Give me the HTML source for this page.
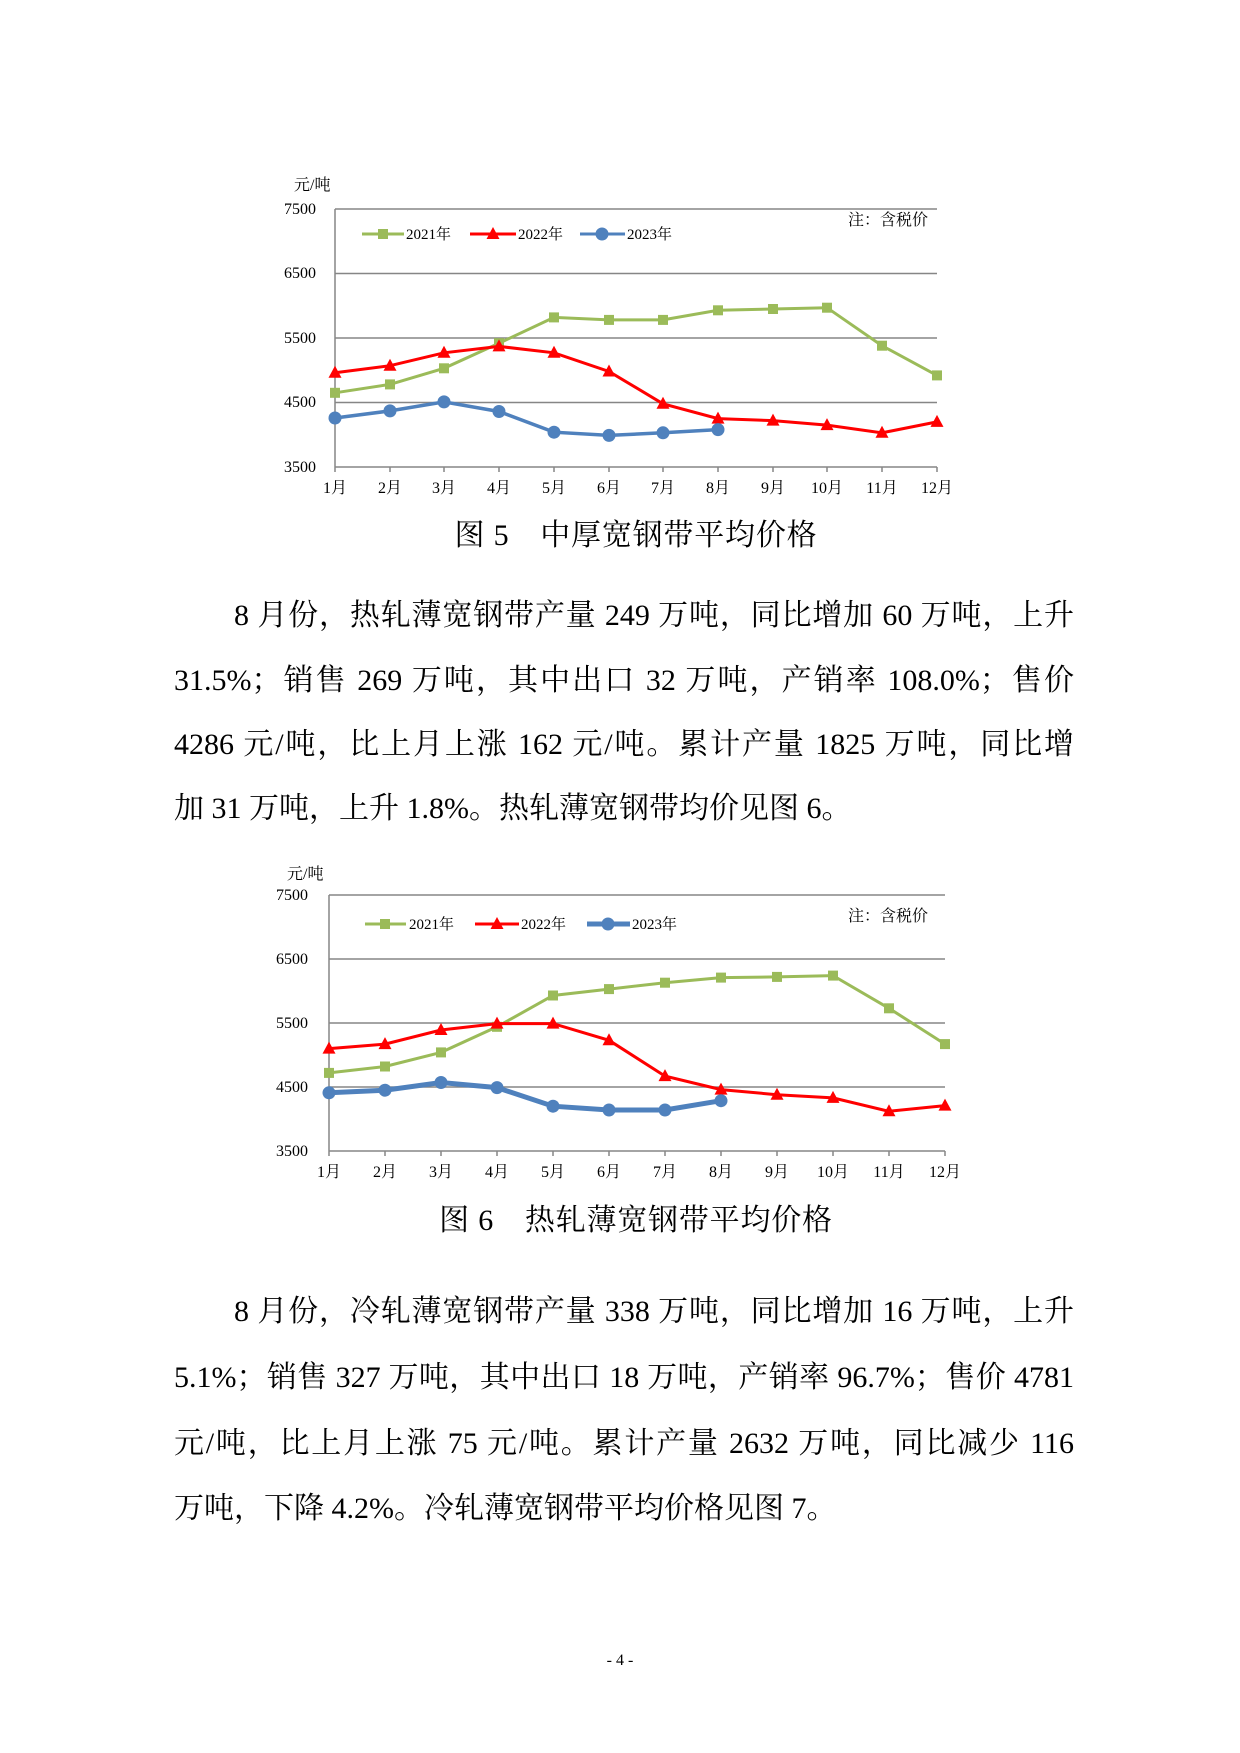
<!DOCTYPE html>
<html><head><meta charset="utf-8"><style>
body{margin:0;background:#fff}
#pg{position:relative;width:1240px;height:1753px;overflow:hidden;background:#fff}
.ln{position:absolute;left:174px;width:900px;font-family:"Liberation Serif","Noto Serif CJK SC",serif;font-size:30px;line-height:40px;text-align:justify;text-align-last:justify;color:#000;white-space:nowrap}
.cap{position:absolute;left:16px;width:1240px;text-align:center;font-family:"Liberation Serif","Noto Serif CJK SC",serif;font-size:30px;line-height:40px;color:#000;letter-spacing:0.8px}
svg text{font-family:"Liberation Serif","Noto Serif CJK SC",serif;fill:#000}
</style></head><body><div id="pg">
<svg width="1240" height="1753" style="position:absolute;left:0;top:0">
<defs>
<rect id="sq" x="-5" y="-5" width="10" height="10" fill="#9bbb59"/>
<path id="tri" d="M0,-7 L6.5,5 L-6.5,5Z" fill="#f00"/>
<circle id="ci" r="6.5" fill="#4f81bd"/>
</defs>
<!-- Chart 1 -->
<g stroke="#868686" stroke-width="1.5">
<line x1="335" y1="209" x2="937" y2="209"/><line x1="335" y1="273.5" x2="937" y2="273.5"/>
<line x1="335" y1="338" x2="937" y2="338"/><line x1="335" y1="402.5" x2="937" y2="402.5"/>
<line x1="335" y1="467" x2="937" y2="467"/><line x1="335" y1="209" x2="335" y2="467"/>
<line x1="335" y1="467" x2="335" y2="472"/><line x1="390" y1="467" x2="390" y2="472"/><line x1="444" y1="467" x2="444" y2="472"/><line x1="499" y1="467" x2="499" y2="472"/><line x1="554" y1="467" x2="554" y2="472"/><line x1="609" y1="467" x2="609" y2="472"/><line x1="663" y1="467" x2="663" y2="472"/><line x1="718" y1="467" x2="718" y2="472"/><line x1="773" y1="467" x2="773" y2="472"/><line x1="827" y1="467" x2="827" y2="472"/><line x1="882" y1="467" x2="882" y2="472"/><line x1="937" y1="467" x2="937" y2="472"/>
</g>
<text x="294" y="190" font-size="16">元/吨</text>
<g font-size="16" text-anchor="end"><text x="316" y="214">7500</text><text x="316" y="278">6500</text><text x="316" y="343">5500</text><text x="316" y="407">4500</text><text x="316" y="472">3500</text></g>
<g font-size="16" text-anchor="middle"><text x="335" y="493">1月</text><text x="390" y="493">2月</text><text x="444" y="493">3月</text><text x="499" y="493">4月</text><text x="554" y="493">5月</text><text x="609" y="493">6月</text><text x="663" y="493">7月</text><text x="718" y="493">8月</text><text x="773" y="493">9月</text><text x="827" y="493">10月</text><text x="882" y="493">11月</text><text x="937" y="493">12月</text></g>
<text x="928" y="225" font-size="16" text-anchor="end">注：含税价</text>
<line x1="362" y1="234" x2="404" y2="234" stroke="#9bbb59" stroke-width="3"/><use href="#sq" x="383" y="234"/><text x="406" y="239" font-size="15">2021年</text>
<line x1="470" y1="234" x2="516" y2="234" stroke="#f00" stroke-width="3"/><use href="#tri" x="493" y="234"/><text x="518" y="239" font-size="15">2022年</text>
<line x1="580" y1="234" x2="625" y2="234" stroke="#4f81bd" stroke-width="3"/><use href="#ci" x="602" y="234"/><text x="627" y="239" font-size="15">2023年</text>
<polyline fill="none" stroke="#9bbb59" stroke-width="3" points="335,392.8 390,384.4 444,368.3 499,343.2 554,317.4 609,319.9 663,319.9 718,310.3 773,309 827,307.7 882,345.7 937,375.4"/>
<g><use href="#sq" x="335" y="392.8"/><use href="#sq" x="390" y="384.4"/><use href="#sq" x="444" y="368.3"/><use href="#sq" x="499" y="343.2"/><use href="#sq" x="554" y="317.4"/><use href="#sq" x="609" y="319.9"/><use href="#sq" x="663" y="319.9"/><use href="#sq" x="718" y="310.3"/><use href="#sq" x="773" y="309"/><use href="#sq" x="827" y="307.7"/><use href="#sq" x="882" y="345.7"/><use href="#sq" x="937" y="375.4"/></g>
<polyline fill="none" stroke="#f00" stroke-width="3" points="335,372.8 390,365.7 444,352.8 499,346.4 554,352.8 609,371.5 663,403.8 718,418.6 773,420.6 827,425.1 882,432.8 937,421.9"/>
<g><use href="#tri" x="335" y="372.8"/><use href="#tri" x="390" y="365.7"/><use href="#tri" x="444" y="352.8"/><use href="#tri" x="499" y="346.4"/><use href="#tri" x="554" y="352.8"/><use href="#tri" x="609" y="371.5"/><use href="#tri" x="663" y="403.8"/><use href="#tri" x="718" y="418.6"/><use href="#tri" x="773" y="420.6"/><use href="#tri" x="827" y="425.1"/><use href="#tri" x="882" y="432.8"/><use href="#tri" x="937" y="421.9"/></g>
<polyline fill="none" stroke="#4f81bd" stroke-width="3.5" points="335,418 390,410.9 444,401.9 499,411.5 554,432.2 609,435.4 663,432.8 718,429.6"/>
<g><use href="#ci" x="335" y="418"/><use href="#ci" x="390" y="410.9"/><use href="#ci" x="444" y="401.9"/><use href="#ci" x="499" y="411.5"/><use href="#ci" x="554" y="432.2"/><use href="#ci" x="609" y="435.4"/><use href="#ci" x="663" y="432.8"/><use href="#ci" x="718" y="429.6"/></g>

<!-- Chart 2 -->
<g stroke="#868686" stroke-width="1.5">
<line x1="329" y1="895" x2="945" y2="895"/><line x1="329" y1="959" x2="945" y2="959"/>
<line x1="329" y1="1023" x2="945" y2="1023"/><line x1="329" y1="1087" x2="945" y2="1087"/>
<line x1="329" y1="1151" x2="945" y2="1151"/><line x1="329" y1="895" x2="329" y2="1151"/>
<line x1="329" y1="1151" x2="329" y2="1156"/><line x1="385" y1="1151" x2="385" y2="1156"/><line x1="441" y1="1151" x2="441" y2="1156"/><line x1="497" y1="1151" x2="497" y2="1156"/><line x1="553" y1="1151" x2="553" y2="1156"/><line x1="609" y1="1151" x2="609" y2="1156"/><line x1="665" y1="1151" x2="665" y2="1156"/><line x1="721" y1="1151" x2="721" y2="1156"/><line x1="777" y1="1151" x2="777" y2="1156"/><line x1="833" y1="1151" x2="833" y2="1156"/><line x1="889" y1="1151" x2="889" y2="1156"/><line x1="945" y1="1151" x2="945" y2="1156"/>
</g>
<text x="287" y="879" font-size="16">元/吨</text>
<g font-size="16" text-anchor="end"><text x="308" y="900">7500</text><text x="308" y="964">6500</text><text x="308" y="1028">5500</text><text x="308" y="1092">4500</text><text x="308" y="1156">3500</text></g>
<g font-size="16" text-anchor="middle"><text x="329" y="1177">1月</text><text x="385" y="1177">2月</text><text x="441" y="1177">3月</text><text x="497" y="1177">4月</text><text x="553" y="1177">5月</text><text x="609" y="1177">6月</text><text x="665" y="1177">7月</text><text x="721" y="1177">8月</text><text x="777" y="1177">9月</text><text x="833" y="1177">10月</text><text x="889" y="1177">11月</text><text x="945" y="1177">12月</text></g>
<text x="928" y="921" font-size="16" text-anchor="end">注：含税价</text>
<line x1="365" y1="924" x2="406" y2="924" stroke="#9bbb59" stroke-width="3"/><use href="#sq" x="385" y="924"/><text x="409" y="929" font-size="15">2021年</text>
<line x1="475" y1="924" x2="519" y2="924" stroke="#f00" stroke-width="3"/><use href="#tri" x="497" y="924"/><text x="521" y="929" font-size="15">2022年</text>
<line x1="587" y1="924" x2="630" y2="924" stroke="#4f81bd" stroke-width="5"/><use href="#ci" x="608" y="924"/><text x="632" y="929" font-size="15">2023年</text>
<polyline fill="none" stroke="#9bbb59" stroke-width="3" points="329,1072.9 385,1066.5 441,1052.4 497,1026.8 553,995.5 609,989.1 665,982.7 721,977.6 777,976.9 833,975.6 889,1008.3 945,1044.1"/>
<g><use href="#sq" x="329" y="1072.9"/><use href="#sq" x="385" y="1066.5"/><use href="#sq" x="441" y="1052.4"/><use href="#sq" x="497" y="1026.8"/><use href="#sq" x="553" y="995.5"/><use href="#sq" x="609" y="989.1"/><use href="#sq" x="665" y="982.7"/><use href="#sq" x="721" y="977.6"/><use href="#sq" x="777" y="976.9"/><use href="#sq" x="833" y="975.6"/><use href="#sq" x="889" y="1008.3"/><use href="#sq" x="945" y="1044.1"/></g>
<polyline fill="none" stroke="#f00" stroke-width="3" points="329,1048.6 385,1044.1 441,1030 497,1023.6 553,1023.6 609,1040.3 665,1076.1 721,1089.6 777,1094.7 833,1097.9 889,1111.3 945,1105.6"/>
<g><use href="#tri" x="329" y="1048.6"/><use href="#tri" x="385" y="1044.1"/><use href="#tri" x="441" y="1030"/><use href="#tri" x="497" y="1023.6"/><use href="#tri" x="553" y="1023.6"/><use href="#tri" x="609" y="1040.3"/><use href="#tri" x="665" y="1076.1"/><use href="#tri" x="721" y="1089.6"/><use href="#tri" x="777" y="1094.7"/><use href="#tri" x="833" y="1097.9"/><use href="#tri" x="889" y="1111.3"/><use href="#tri" x="945" y="1105.6"/></g>
<polyline fill="none" stroke="#4f81bd" stroke-width="5" points="329,1092.8 385,1090.2 441,1082.5 497,1087.6 553,1106.2 609,1110 665,1110 721,1100.7"/>
<g><use href="#ci" x="329" y="1092.8"/><use href="#ci" x="385" y="1090.2"/><use href="#ci" x="441" y="1082.5"/><use href="#ci" x="497" y="1087.6"/><use href="#ci" x="553" y="1106.2"/><use href="#ci" x="609" y="1110"/><use href="#ci" x="665" y="1110"/><use href="#ci" x="721" y="1100.7"/></g>
</svg>

<div class="cap" style="top:516px">图 5　中厚宽钢带平均价格</div>
<div class="ln" style="top:596px;left:234px;width:840px">8 月份，热轧薄宽钢带产量 249 万吨，同比增加 60 万吨，上升</div>
<div class="ln" style="top:661px">31.5%；销售 269 万吨，其中出口 32 万吨，产销率 108.0%；售价</div>
<div class="ln" style="top:725px">4286 元/吨，比上月上涨 162 元/吨。累计产量 1825 万吨，同比增</div>
<div class="ln" style="top:789px;width:auto;text-align-last:auto">加 31 万吨，上升 1.8%。热轧薄宽钢带均价见图 6。</div>

<div class="cap" style="top:1201px">图 6　热轧薄宽钢带平均价格</div>
<div class="ln" style="top:1292px;left:234px;width:840px">8 月份，冷轧薄宽钢带产量 338 万吨，同比增加 16 万吨，上升</div>
<div class="ln" style="top:1358px">5.1%；销售 327 万吨，其中出口 18 万吨，产销率 96.7%；售价 4781</div>
<div class="ln" style="top:1424px">元/吨，比上月上涨 75 元/吨。累计产量 2632 万吨，同比减少 116</div>
<div class="ln" style="top:1489px;width:auto;text-align-last:auto">万吨，下降 4.2%。冷轧薄宽钢带平均价格见图 7。</div>

<div style="position:absolute;top:1653px;left:0;width:1240px;text-align:center;font-family:'Liberation Serif',serif;font-size:16px;line-height:16px">- 4 -</div>
</div></body></html>
